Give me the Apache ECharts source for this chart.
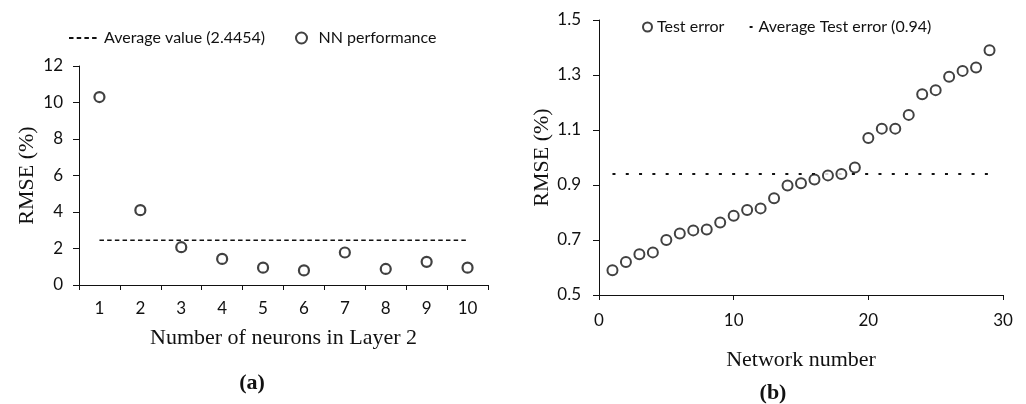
<!DOCTYPE html>
<html>
<head>
<meta charset="utf-8">
<script src="https://cdn.jsdelivr.net/npm/echarts@6/dist/echarts.min.js"></script>
<style>html,body{margin:0;padding:0;background:#fff}#c{width:1026px;height:404px}</style>
</head>
<body>
<div id="c"></div>
<script>
// ---- Panel (a) ----
const catsA = ['1','2','3','4','5','6','7','8','9','10'];
const rmseA = [10.3, 4.1, 2.07, 1.43, 0.95, 0.8, 1.78, 0.88, 1.27, 0.95];
const avgA = 2.4454;
const avgLineA = [['1', avgA], ['10', avgA]];
const yTicksA = [0, 2, 4, 6, 8, 10, 12];

// ---- Panel (b) ----
const netB = [1,2,3,4,5,6,7,8,9,10,11,12,13,14,15,16,17,18,19,20,21,22,23,24,25,26,27,28,29];
const rmseB = [0.59,0.62,0.648,0.655,0.70,0.724,0.735,0.738,0.764,0.788,0.809,0.815,0.852,0.898,0.906,0.92,0.935,0.94,0.964,1.071,1.105,1.105,1.155,1.23,1.245,1.294,1.315,1.327,1.39];
const avgB = 0.94;
const avgLineB = [[1, avgB], [29, avgB]];
const yTicksB = [0.5, 0.7, 0.9, 1.1, 1.3, 1.5];
const xTicksB = [0, 10, 20, 30];

const sans = 'Lato';
const serif = 'Liberation Serif';
const ink = '#111';

const chart = echarts.init(document.getElementById('c'), null, {renderer: 'canvas'});
chart.setOption({
  animation: false,
  backgroundColor: '#fff',
  title: [
    {text: '{n|(}{b|a}{n|)}', left: 247, top: 367, textAlign: 'center',
     textStyle: {rich: {n: {fontFamily: serif, fontSize: 22, color: ink}, b: {fontFamily: serif, fontSize: 22, fontWeight: 'bold', color: ink}}}},
    {text: '{n|(}{b|b}{n|)}', left: 768, top: 377, textAlign: 'center',
     textStyle: {rich: {n: {fontFamily: serif, fontSize: 22, color: ink}, b: {fontFamily: serif, fontSize: 22, fontWeight: 'bold', color: ink}}}}
  ],
  legend: [
    {data: ['Average value (2.4454)'], left: 63, top: 25, itemWidth: 30, itemHeight: 14,
     itemStyle: {opacity: 0},
     textStyle: {fontFamily: sans, fontSize: 16, color: ink}},
    {data: ['NN performance'], left: 290, top: 25, itemWidth: 24, itemHeight: 11,
     textStyle: {fontFamily: sans, fontSize: 16, color: ink}},
    {data: ['Test error'], left: 637, top: 14, itemWidth: 9, itemHeight: 9,
     textStyle: {fontFamily: sans, fontSize: 16, color: ink}},
    {data: ['Average Test error (0.94)'], left: 741, top: 14, itemWidth: 4, itemHeight: 14,
     itemStyle: {opacity: 0},
     textStyle: {fontFamily: sans, fontSize: 16, color: ink}}
  ],
  grid: [
    {left: 79, top: 66, width: 409, height: 219, containLabel: false},
    {left: 599, top: 20, width: 404, height: 275, containLabel: false}
  ],
  xAxis: [
    {type: 'category', gridIndex: 0, data: catsA, boundaryGap: true,
     axisLine: {lineStyle: {color: ink, width: 1}},
     axisTick: {show: true, length: 5, lineStyle: {color: ink}},
     axisLabel: {fontFamily: sans, fontSize: 17, color: ink, margin: 15},
     splitLine: {show: false},
     name: 'Number of neurons in Layer 2', nameLocation: 'middle', nameGap: 42,
     nameTextStyle: {fontFamily: serif, fontSize: 22, color: ink}},
    {type: 'value', gridIndex: 1, min: 0, max: 30, interval: 10,
     axisLine: {show: true, lineStyle: {color: ink, width: 1}},
     axisTick: {show: true, length: 5, lineStyle: {color: ink}},
     axisLabel: {fontFamily: sans, fontSize: 17, color: ink, margin: 17},
     splitLine: {show: false},
     name: 'Network number', nameLocation: 'middle', nameGap: 54,
     nameTextStyle: {fontFamily: serif, fontSize: 22, color: ink}}
  ],
  yAxis: [
    {type: 'value', gridIndex: 0, min: 0, max: 12, interval: 2,
     axisLine: {show: true, lineStyle: {color: ink, width: 1}},
     axisTick: {show: true, length: 6, lineStyle: {color: ink}},
     axisLabel: {fontFamily: sans, fontSize: 17, color: ink, margin: 16},
     splitLine: {show: false},
     name: 'RMSE (%)', nameLocation: 'middle', nameGap: 41,
     nameTextStyle: {fontFamily: serif, fontSize: 22, color: ink}},
    {type: 'value', gridIndex: 1, min: 0.5, max: 1.5,
     axisLine: {show: true, lineStyle: {color: ink, width: 1}},
     axisTick: {show: true, length: 6, lineStyle: {color: ink}, customValues: yTicksB},
     axisLabel: {fontFamily: sans, fontSize: 17, color: ink, margin: 18, customValues: yTicksB,
       formatter: v => v.toFixed(1)},
     splitLine: {show: false},
     name: 'RMSE (%)', nameLocation: 'middle', nameGap: 43,
     nameTextStyle: {fontFamily: serif, fontSize: 22, color: ink}}
  ],
  series: [
    {name: 'Average value (2.4454)', type: 'line', xAxisIndex: 0, yAxisIndex: 0,
     data: avgLineA, symbol: 'none', showSymbol: false,
     lineStyle: {color: ink, width: 1.5, type: [4.5, 3.2]}, itemStyle: {color: ink}, z: 1},
    {name: 'NN performance', type: 'scatter', xAxisIndex: 0, yAxisIndex: 0,
     data: rmseA, symbol: 'circle', symbolSize: 10,
     itemStyle: {color: '#fff', borderColor: ink, borderWidth: 2.2}, z: 3},
    {name: 'Test error', type: 'scatter', xAxisIndex: 1, yAxisIndex: 1,
     data: netB.map((n, i) => [n, rmseB[i]]), symbol: 'circle', symbolSize: 10,
     itemStyle: {color: '#fff', borderColor: ink, borderWidth: 2}, z: 3},
    {name: 'Average Test error (0.94)', type: 'line', xAxisIndex: 1, yAxisIndex: 1,
     data: avgLineB, symbol: 'none', showSymbol: false,
     lineStyle: {color: ink, width: 2, type: [3, 10.3]}, itemStyle: {color: ink}, z: 1}
  ]
});
</script>
</body>
</html>
